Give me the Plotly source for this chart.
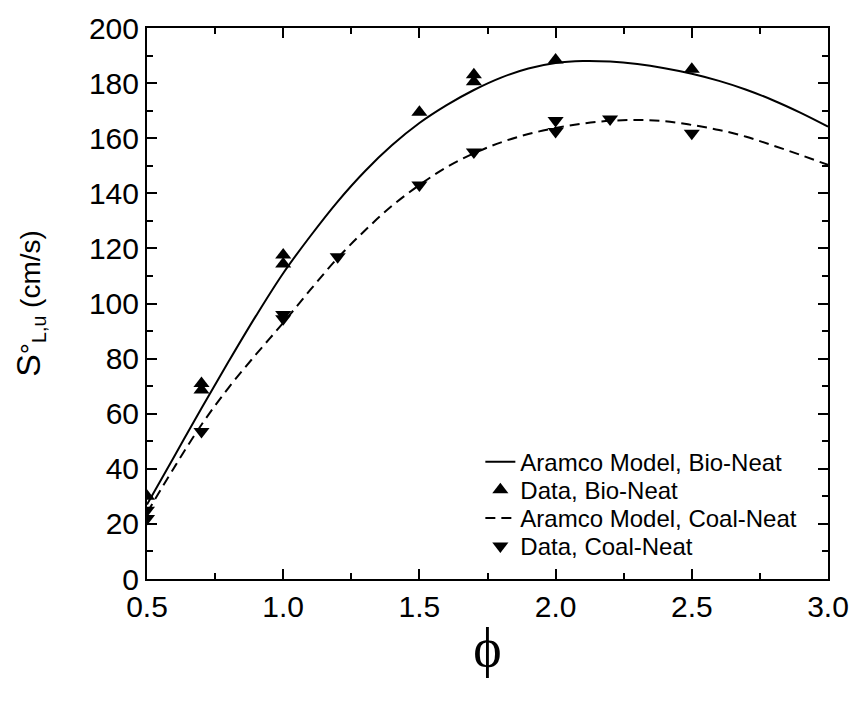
import plotly.graph_objects as go

# Model curves
phi_model = [0.5, 0.6, 0.7, 0.8, 0.9, 1.0, 1.1, 1.2, 1.3, 1.4, 1.5, 1.6, 1.7, 1.8,
             1.9, 2.0, 2.1, 2.2, 2.3, 2.4, 2.5, 2.6, 2.7, 2.8, 2.9, 3.0]
bio_model = [27, 44.5, 62, 79, 95.5, 111, 124.5, 137, 148, 157.5, 165.5, 172, 177.5, 182,
             185.3, 187.3, 188, 187.8, 186.9, 185.4, 183.4, 180.8, 177.6, 173.7, 169.2, 164.2]
coal_model = [24, 40.5, 56, 69.5, 81.5, 93, 105, 116.5, 126.5, 135.5, 143, 149.5, 154.5, 158.5,
              161.5, 163.7, 165.3, 166.3, 166.6, 166.2, 164.8, 163, 160.5, 157.3, 153.9, 150.3]

# Measured data
bio_phi = [0.5, 0.7, 0.7, 1.0, 1.0, 1.5, 1.7, 1.7, 2.0, 2.5]
bio_data = [30, 71, 68.6, 117.6, 114.3, 169.4, 183, 180.5, 188.4, 185]
coal_phi = [0.5, 0.5, 0.7, 1.0, 1.0, 1.2, 1.5, 1.7, 2.0, 2.0, 2.2, 2.5]
coal_data = [25, 22, 53.5, 96, 94.5, 117, 143, 155, 166.4, 162.4, 167, 161.8]

x_ticks = [0.5, 1.0, 1.5, 2.0, 2.5, 3.0]
x_ticklabels = ["0.5", "1.0", "1.5", "2.0", "2.5", "3.0"]
y_ticks = list(range(0, 201, 20))

fig = go.Figure()
fig.add_trace(go.Scatter(x=phi_model, y=bio_model, mode="lines", line_shape="spline",
                         line=dict(color="black", width=2), name="Aramco Model, Bio-Neat",
                         legend="legend"))
fig.add_trace(go.Scatter(x=bio_phi, y=bio_data, mode="markers",
                         marker=dict(symbol="triangle-up", size=14, color="black"),
                         name="Data, Bio-Neat", legend="legend2"))
fig.add_trace(go.Scatter(x=phi_model, y=coal_model, mode="lines", line_shape="spline",
                         line=dict(color="black", width=2, dash="10px,6px"),
                         name="Aramco Model, Coal-Neat", legend="legend3"))
fig.add_trace(go.Scatter(x=coal_phi, y=coal_data, mode="markers",
                         marker=dict(symbol="triangle-down", size=14, color="black"),
                         name="Data, Coal-Neat", legend="legend4"))

axis_common = dict(showline=True, linecolor="black", linewidth=2, mirror="ticks",
                   ticks="inside", ticklen=10, tickwidth=2, tickcolor="black",
                   showgrid=False, zeroline=False,
                   tickfont=dict(family="Arial, Liberation Sans", size=30, color="black"))

fig.update_xaxes(range=[0.5, 3.0], tickvals=x_ticks, ticktext=x_ticklabels,
                 automargin="bottom",
                 minor=dict(ticks="inside", ticklen=6, tickwidth=2, tickcolor="black", dtick=0.25),
                 title=dict(text="ϕ", font=dict(family="Liberation Serif, DejaVu Serif", size=54, color="black"),
                            standoff=6),
                 **axis_common)
fig.update_yaxes(range=[0, 200], tickvals=y_ticks,
                 automargin="left",
                 minor=dict(ticks="inside", ticklen=6, tickwidth=2, tickcolor="black", dtick=10),
                 title=dict(text="<span style='font-size:34px'>S</span>°<sub>L,u</sub> (cm/s)",
                            font=dict(family="Arial, Liberation Sans", size=28, color="black"),
                            standoff=40),
                 **axis_common)

leg_font = dict(family="Arial, Liberation Sans", size=24, color="black")
leg_common = dict(x=0.4895, xanchor="left", yanchor="top", font=leg_font,
                  bgcolor="rgba(0,0,0,0)", itemwidth=30)

fig.update_layout(
    width=853, height=702,
    margin=dict(l=147, r=25, t=28, b=123),
    plot_bgcolor="white", paper_bgcolor="white",
    showlegend=True,
    legend=dict(y=0.253, **leg_common),
    legend2=dict(y=0.202, **leg_common),
    legend3=dict(y=0.151, **leg_common),
    legend4=dict(y=0.100, **leg_common),
)

fig.write_html("out.html")
